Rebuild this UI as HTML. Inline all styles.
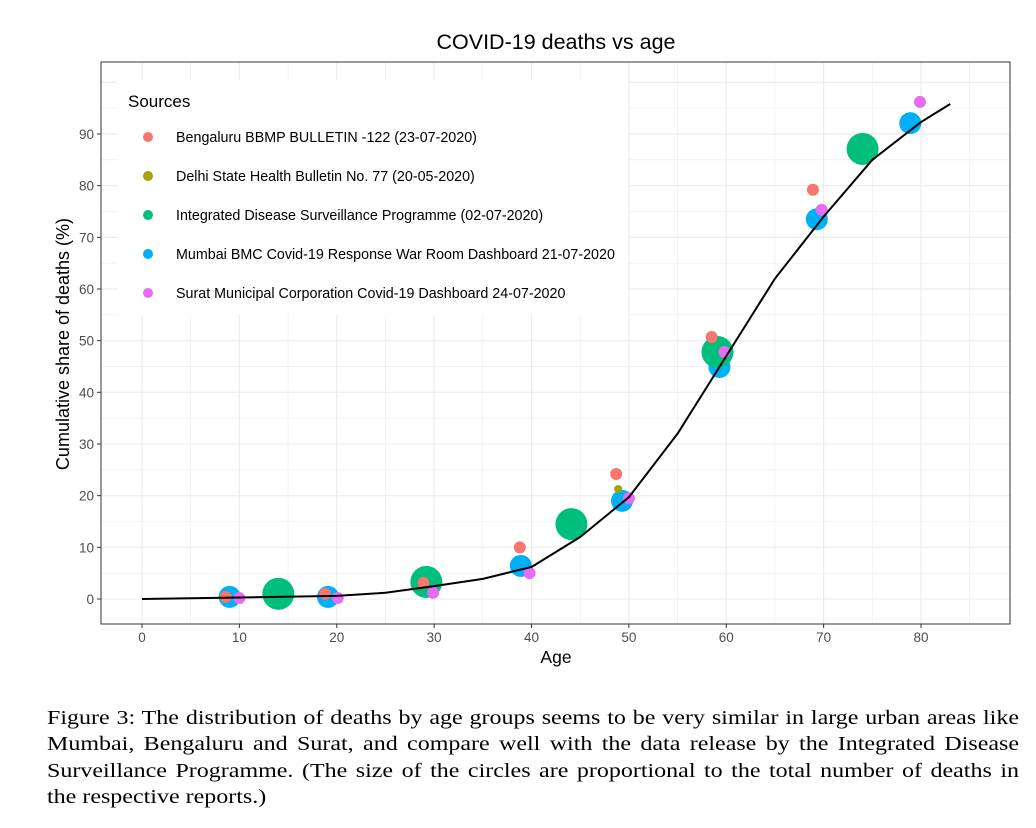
<!DOCTYPE html>
<html><head><meta charset="utf-8"><style>
body{margin:0;background:#fff;width:1036px;height:828px;overflow:hidden;font-family:"Liberation Sans",sans-serif}
#cap{position:absolute;left:47px;top:705px;width:810px;transform-origin:0 0;transform:scaleX(1.2);font-family:"Liberation Serif",serif;font-size:20px;line-height:26.3px;color:#000}
#cap div{text-align:justify;text-align-last:justify;white-space:nowrap}
#cap div.last{text-align-last:left}
</style></head><body>
<svg id="chart" width="1036" height="700" style="position:absolute;left:0;top:0" xmlns="http://www.w3.org/2000/svg"></svg>
<div id="cap"><div>Figure 3: The distribution of deaths by age groups seems to be very similar in large urban areas like</div><div>Mumbai, Bengaluru and Surat, and compare well with the data release by the Integrated Disease</div><div>Surveillance Programme. (The size of the circles are proportional to the total number of deaths in</div><div class="last">the respective reports.)</div></div>
<script>
const xTicks=[0,10,20,30,40,50,60,70,80];
const yTicks=[0,10,20,30,40,50,60,70,80,90];
const seriesNames=["Bengaluru BBMP BULLETIN -122 (23-07-2020)","Delhi State Health Bulletin No. 77 (20-05-2020)","Integrated Disease Surveillance Programme (02-07-2020)","Mumbai BMC Covid-19 Response War Room Dashboard 21-07-2020","Surat Municipal Corporation Covid-19 Dashboard 24-07-2020"];
const seriesColors=["#F8766D","#A3A500","#00BF7D","#00B0F6","#E76BF3"];
const seriesRadius=[6,4,16,11,6];
const mumbaiAge=[9,19.1,29,38.9,49.3,59.3,69.3,78.9];
const mumbaiVal=[0.4,0.4,2.5,6.4,19,44.9,73.5,92.1];
const idspAge=[14,29.2,44.1,59.1,74];
const idspVal=[1,3.3,14.5,47.8,87.1];
const bengAge=[8.6,18.8,28.9,38.8,48.7,58.5,68.9];
const bengVal=[0.4,1,3.1,10,24.2,50.7,79.2];
const delhiAge=[48.9];
const delhiVal=[21.3];
const suratAge=[10,20.1,29.9,39.8,50,59.8,69.8,79.9];
const suratVal=[0.2,0.2,1.2,5,19.5,47.8,75.3,96.2];
const curveAge=[0,10,20,25,30,35,40,45,50,55,60,65,70,75,80,83];
const curveVal=[0,0.3,0.6,1.2,2.5,3.9,6.2,12,19.7,32,47,62,74,85,92.3,95.8];

const NS="http://www.w3.org/2000/svg";
const svg=document.getElementById('chart');
const X=a=>142+a*9.7375;
const Y=v=>599-v*5.167;
function mk(t,at,p){const e=document.createElementNS(NS,t);for(const k in at)e.setAttribute(k,at[k]);(p||svg).appendChild(e);return e;}
const L=101,R=1010,T=62,B=624;
const bg=mk('rect',{x:L,y:T,width:R-L,height:B-T,fill:'#fff'});


const grid=mk('g',{});


for(let a=-5;a<=90;a+=5){const x=X(a);if(x<L||x>R)continue;mk('line',{x1:x,x2:x,y1:T,y2:B,stroke:'#ebebeb','stroke-width':a%10===0?1.1:0.6},grid);}
for(let v=-5;v<=100;v+=5){const y=Y(v);if(y<T||y>B)continue;mk('line',{x1:L,x2:R,y1:y,y2:y,stroke:'#ebebeb','stroke-width':v%10===0?1.1:0.6},grid);}
const border=mk('rect',{x:L,y:T,width:R-L,height:B-T,fill:'none',stroke:'#333','stroke-width':1});


xTicks.forEach(t=>{mk('line',{x1:X(t),x2:X(t),y1:B,y2:B+4,stroke:'#333'});const e=mk('text',{x:X(t),y:B+18,'text-anchor':'middle','font-size':13.5,fill:'#4d4d4d'});e.textContent=t;

});
yTicks.forEach(t=>{mk('line',{x1:L-4,x2:L,y1:Y(t),y2:Y(t),stroke:'#333'});const e=mk('text',{x:L-7,y:Y(t)+5,'text-anchor':'end','font-size':13.5,fill:'#4d4d4d'});e.textContent=t;

});
function pts(ages,vals,si,name){ages.forEach((a,i)=>{const c=mk('circle',{cx:X(a),cy:Y(vals[i]),r:seriesRadius[si],fill:seriesColors[si]});

});}
pts(mumbaiAge,mumbaiVal,3,'mumbai');
pts(idspAge,idspVal,2,'idsp');
pts(bengAge,bengVal,0,'bengaluru');
pts(delhiAge,delhiVal,1,'delhi');
pts(suratAge,suratVal,4,'surat');
const line=mk('polyline',{points:curveAge.map((a,i)=>X(a)+','+Y(curveVal[i])).join(' '),fill:'none',stroke:'#000','stroke-width':2,'stroke-linejoin':'round'});


const lg=mk('g',{});


mk('rect',{x:118,y:80,width:510,height:235,fill:'#fff'},lg);
const lt=mk('text',{x:128,y:107,'font-size':17,fill:'#000'},lg);lt.textContent='Sources';
seriesNames.forEach((n,i)=>{const y=137+i*39;mk('circle',{cx:148,cy:y,r:5,fill:seriesColors[i]},lg);const e=mk('text',{x:176,y:y+5,'font-size':14.3,fill:'#000'},lg);e.textContent=n;

});
const tt=mk('text',{x:556,y:49,'text-anchor':'middle','font-size':21.5,fill:'#000'});tt.textContent='COVID-19 deaths vs age';


const xt=mk('text',{x:556,y:663,'text-anchor':'middle','font-size':17.5,fill:'#000'});xt.textContent='Age';


const yt=mk('text',{x:0,y:0,'text-anchor':'middle','font-size':18,fill:'#000',transform:'translate(69,344) rotate(-90)'});yt.textContent='Cumulative share of deaths (%)';


</script>
</body></html>
